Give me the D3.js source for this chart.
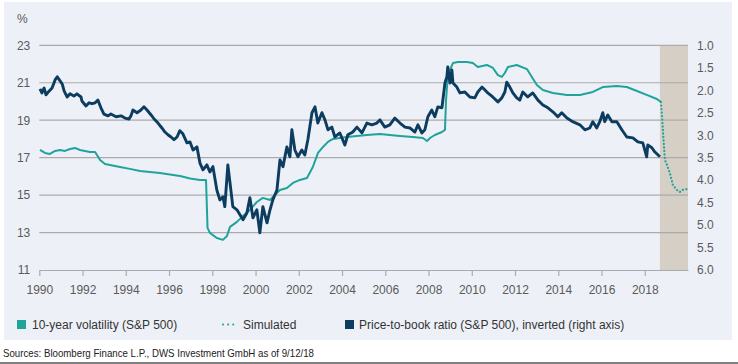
<!DOCTYPE html>
<html><head><meta charset="utf-8">
<script src="https://cdn.jsdelivr.net/npm/d3@7"></script>
<style>
html,body{margin:0;padding:0;background:#fff;}
svg{display:block;font-family:"Liberation Sans",Arial,Helvetica,sans-serif;}
</style></head><body>
<svg id="chart" width="738" height="364"></svg>
<script>
// ---------- data ----------
const xTicks = [1990,1992,1994,1996,1998,2000,2002,2004,2006,2008,2010,2012,2014,2016,2018];
const leftTicks = [11,13,15,17,19,21,23];
const rightTicks = [1.0,1.5,2.0,2.5,3.0,3.5,4.0,4.5,5.0,5.5,6.0];
const forecastPeriod = [2018.7, 2020];

// 10-year volatility (S&P 500), % [year, value]
const volatility = [
[1990.03,17.41],[1990.26,17.25],[1990.49,17.20],[1990.73,17.36],[1990.96,17.41],[1991.19,17.36],
[1991.42,17.46],[1991.65,17.52],[1991.88,17.41],[1992.34,17.30],[1992.58,17.30],[1992.81,16.88],
[1993.04,16.66],[1993.27,16.61],[1993.73,16.50],[1994.19,16.40],[1994.66,16.29],[1995.12,16.24],
[1995.58,16.18],[1996.04,16.10],[1996.51,16.02],[1996.97,15.89],[1997.43,15.81],[1997.71,15.81],
[1997.78,13.25],[1997.89,12.98],[1998.21,12.71],[1998.49,12.61],[1998.68,12.82],[1998.82,13.30],
[1999.14,13.57],[1999.42,13.89],[1999.74,14.21],[2000.06,14.63],[2000.34,14.85],[2000.67,14.74],
[2000.90,15.01],[2001.13,15.27],[2001.45,15.38],[2001.73,15.65],[2002.05,15.81],[2002.38,15.91],
[2002.65,16.50],[2002.89,17.25],[2003.12,17.57],[2003.35,17.84],[2003.58,18.00],[2003.90,18.05],
[2004.22,18.10],[2004.69,18.16],[2005.15,18.21],[2005.75,18.26],[2006.68,18.16],[2007.28,18.10],
[2007.74,18.05],[2007.93,17.89],[2008.07,18.05],[2008.29,18.21],[2008.62,18.37],[2008.76,18.48],
[2008.81,20.08],[2008.89,21.31],[2008.99,21.68],[2009.13,22.05],[2009.36,22.11],[2009.78,22.11],
[2010.05,22.05],[2010.28,21.84],[2010.70,21.95],[2010.98,21.79],[2011.21,21.41],[2011.39,21.31],
[2011.53,21.52],[2011.67,21.84],[2012.08,21.95],[2012.55,21.73],[2012.78,21.31],[2013.01,20.88],
[2013.29,20.61],[2013.75,20.45],[2014.40,20.35],[2015.00,20.35],[2015.60,20.51],[2016.06,20.77],
[2016.71,20.83],[2017.17,20.77],[2017.64,20.56],[2018.09,20.35],[2018.56,20.13],[2018.75,19.97]
];

// Simulated volatility, % [year, value]
const simulated = [
[2018.75,19.97],[2018.80,19.20],[2018.84,18.48],[2018.93,16.88],[2019.03,16.61],[2019.16,16.18],
[2019.30,15.54],[2019.48,15.28],[2019.62,15.17],[2019.76,15.28],[2020.00,15.33]
];

// Price-to-book ratio (S&P 500), right axis, inverted [year, ratio]
const priceToBook = [
[1990.03,1.97],[1990.12,2.06],[1990.22,1.95],[1990.31,2.10],[1990.45,2.02],[1990.59,1.95],[1990.73,1.77],
[1990.83,1.70],[1990.96,1.79],[1991.06,1.86],[1991.15,2.02],[1991.29,2.15],[1991.42,2.08],[1991.60,2.13],
[1991.74,2.08],[1991.93,2.15],[1991.97,2.24],[1992.16,2.35],[1992.30,2.28],[1992.44,2.30],[1992.58,2.28],
[1992.71,2.22],[1992.85,2.39],[1992.99,2.53],[1993.18,2.57],[1993.31,2.53],[1993.55,2.59],[1993.78,2.57],
[1993.96,2.62],[1994.15,2.64],[1994.24,2.57],[1994.33,2.44],[1994.52,2.50],[1994.70,2.44],[1994.84,2.37],
[1994.98,2.44],[1995.17,2.55],[1995.31,2.64],[1995.49,2.73],[1995.67,2.84],[1995.81,2.93],[1995.95,2.99],
[1996.09,3.04],[1996.23,3.10],[1996.37,3.04],[1996.50,2.90],[1996.64,2.97],[1996.83,3.17],[1996.97,3.15],
[1997.11,3.33],[1997.29,3.26],[1997.43,3.62],[1997.57,3.77],[1997.75,3.66],[1997.89,3.82],[1998.03,3.70],
[1998.21,4.22],[1998.35,4.44],[1998.49,4.37],[1998.58,4.59],[1998.72,3.66],[1998.82,4.06],[1998.95,4.59],
[1999.14,4.66],[1999.28,4.77],[1999.42,4.88],[1999.60,4.73],[1999.74,4.39],[1999.88,4.84],[2000.06,4.66],
[2000.20,5.17],[2000.34,4.59],[2000.53,4.95],[2000.67,4.66],[2000.80,4.44],[2000.99,4.22],[2001.13,3.55],
[2001.27,3.70],[2001.45,3.26],[2001.59,3.48],[2001.68,2.88],[2001.82,3.33],[2001.96,3.48],[2002.14,3.33],
[2002.28,3.44],[2002.42,3.10],[2002.61,2.50],[2002.75,2.37],[2002.88,2.73],[2003.07,2.50],[2003.21,2.66],
[2003.35,2.88],[2003.53,2.82],[2003.67,3.04],[2003.90,2.95],[2004.13,3.22],[2004.27,2.99],[2004.50,2.93],
[2004.69,2.82],[2004.92,2.95],[2005.15,2.73],[2005.38,2.77],[2005.61,2.73],[2005.75,2.66],[2005.98,2.82],
[2006.21,2.77],[2006.44,2.62],[2006.68,2.73],[2006.91,2.82],[2007.14,2.84],[2007.37,2.93],[2007.51,2.77],
[2007.69,2.95],[2007.83,2.88],[2007.97,2.59],[2008.15,2.44],[2008.29,2.59],[2008.43,2.37],[2008.62,2.39],
[2008.76,1.84],[2008.85,1.70],[2008.89,1.48],[2008.99,1.84],[2009.08,1.55],[2009.13,1.84],[2009.31,1.93],
[2009.45,2.06],[2009.68,2.04],[2009.91,2.15],[2010.14,2.17],[2010.28,2.04],[2010.47,1.93],[2010.60,1.99],
[2010.74,2.06],[2010.97,2.15],[2011.21,2.26],[2011.39,2.17],[2011.53,2.04],[2011.62,1.82],[2011.76,1.93],
[2011.90,2.06],[2012.08,2.17],[2012.22,2.22],[2012.36,2.04],[2012.59,2.15],[2012.82,2.06],[2013.06,2.22],
[2013.29,2.33],[2013.52,2.39],[2013.75,2.48],[2013.98,2.59],[2014.16,2.50],[2014.40,2.62],[2014.67,2.70],
[2015.00,2.77],[2015.23,2.88],[2015.46,2.84],[2015.60,2.70],[2015.78,2.84],[2015.92,2.70],[2016.06,2.50],
[2016.15,2.70],[2016.29,2.55],[2016.48,2.70],[2016.71,2.70],[2016.94,2.88],[2017.17,3.04],[2017.45,3.06],
[2017.68,3.15],[2017.91,3.17],[2018.09,3.48],[2018.14,3.22],[2018.33,3.28],[2018.46,3.37],[2018.70,3.48]
];

const legendLabels = ["10-year volatility (S&P 500)", "Simulated", "Price-to-book ratio (S&P 500), inverted (right axis)"];
const sourceText = "Sources: Bloomberg Finance L.P., DWS Investment GmbH as of 9/12/18";

// ---------- styles ----------
const TEAL = "#1fa39b", NAVY = "#0c3c5f", GRID = "#ababab", LABEL = "#5a5a5a", TEXT = "#333";

// ---------- drawing ----------
const svg = d3.select("#chart");
svg.append("rect").attr("x",4).attr("y",2).attr("width",728).attr("height",338).attr("fill","#edf1f7");

const x = d3.scaleLinear().domain([1990, 2020]).range([39.3, 688]);
const yL = d3.scaleLinear().domain([11, 23]).range([270, 45.3]);
const yR = d3.scaleLinear().domain([6, 1]).range([270, 45.3]);

// forecast shading
svg.append("rect")
  .attr("x", x(forecastPeriod[0])).attr("y", yL(23))
  .attr("width", x(forecastPeriod[1]) - x(forecastPeriod[0]))
  .attr("height", yL(11) - yL(23))
  .attr("fill", "#d5cfc6");

// gridlines
svg.append("g").selectAll("line").data(leftTicks.filter(d => d > 11)).join("line")
  .attr("x1", x(1990)).attr("x2", x(2020))
  .attr("y1", d => yL(d)).attr("y2", d => yL(d))
  .attr("stroke", GRID).attr("stroke-width", 1.2);

// axes
const gl = svg.append("g").attr("transform", `translate(${x(1990)},0)`)
  .call(d3.axisLeft(yL).tickValues(leftTicks).tickSize(0).tickPadding(9).tickFormat(d3.format("d")));
gl.select(".domain").remove();

const gr = svg.append("g").attr("transform", `translate(${x(2020)},0)`)
  .call(d3.axisRight(yR).tickValues(rightTicks).tickSize(0).tickPadding(9).tickFormat(d3.format(".1f")));
gr.select(".domain").remove();

const gb = svg.append("g").attr("transform", `translate(0,${yL(11)})`)
  .call(d3.axisBottom(x).tickValues(xTicks).tickSize(6).tickSizeOuter(0).tickPadding(9).tickFormat(d3.format("d")));
gb.select(".domain").attr("stroke", GRID).attr("stroke-width", 1.2);
gb.selectAll(".tick line").attr("stroke", GRID).attr("stroke-width", 1.2);

svg.selectAll(".tick text").attr("fill", LABEL).style("font-size", "12px")
  .style("font-family", '"Liberation Sans",Arial,sans-serif');

svg.append("text").attr("x", 17).attr("y", 23).text("%")
  .attr("fill", LABEL).style("font-size", "12px");

// lines
const lineL = d3.line().x(d => x(d[0])).y(d => yL(d[1]));
const lineR = d3.line().x(d => x(d[0])).y(d => yR(d[1]));

svg.append("path").datum(volatility).attr("d", lineL)
  .attr("fill", "none").attr("stroke", TEAL).attr("stroke-width", 2).attr("stroke-linejoin", "round");

svg.append("path").datum(simulated).attr("d", lineL)
  .attr("fill", "none").attr("stroke", TEAL).attr("stroke-width", 2.2)
  .attr("stroke-linecap", "round").attr("stroke-dasharray", "0.1,3.4");

svg.append("path").datum(priceToBook).attr("d", lineR)
  .attr("fill", "none").attr("stroke", NAVY).attr("stroke-width", 2.9).attr("stroke-linejoin", "round");

// legend
const lg = svg.append("g").style("font-size", "12px").attr("fill", TEXT);
lg.append("rect").attr("x", 17).attr("y", 320).attr("width", 9).attr("height", 9).attr("fill", TEAL);
lg.append("text").attr("x", 32).attr("y", 328.5).text(legendLabels[0]).attr("fill", TEXT);
lg.append("line").attr("x1", 223).attr("x2", 234).attr("y1", 324.5).attr("y2", 324.5)
  .attr("stroke", TEAL).attr("stroke-width", 2).attr("stroke-linecap", "round").attr("stroke-dasharray", "0.1,5");
lg.append("text").attr("x", 243).attr("y", 328.5).text(legendLabels[1]).attr("fill", TEXT);
lg.append("rect").attr("x", 345).attr("y", 320).attr("width", 9).attr("height", 9).attr("fill", NAVY);
lg.append("text").attr("x", 359).attr("y", 328.5).text(legendLabels[2]).attr("fill", TEXT);

// source
svg.append("text").attr("x", 3).attr("y", 357).text(sourceText)
  .attr("fill", "#222").style("font-size", "11px")
  .style("font-family", '"Liberation Sans Narrow","Liberation Sans",Arial,sans-serif')
  .attr("textLength", 311).attr("lengthAdjust", "spacingAndGlyphs");

svg.append("line").attr("x1", 0).attr("x2", 738).attr("y1", 363).attr("y2", 363)
  .attr("stroke", "#555").attr("stroke-width", 1.5);
</script>
</body></html>
